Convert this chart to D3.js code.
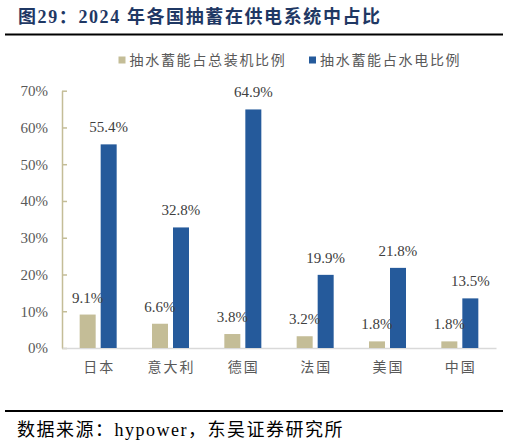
<!DOCTYPE html>
<html>
<head>
<meta charset="utf-8">
<script src="https://cdn.jsdelivr.net/npm/d3@7"></script>
<style>
  body { margin: 0; background: #fff; }
  svg { display: block; }
</style>
</head>
<body>
<div id="chart"></div>
<script>
// 数据
const countries = ["日本", "意大利", "德国", "法国", "美国", "中国"];
const seriesNames = ["抽水蓄能占总装机比例", "抽水蓄能占水电比例"];
const shareOfCapacity = [0.091, 0.066, 0.038, 0.032, 0.018, 0.018];
const shareOfHydro = [0.554, 0.328, 0.649, 0.199, 0.218, 0.135];
const yTicks = [0, 0.1, 0.2, 0.3, 0.4, 0.5, 0.6, 0.7];

const width = 509;
const height = 447;
const margin = {top: 90.7, bottom: 99, left: 62, right: 13};
const colors = ["#C4BD97", "#255A9B"];

const serif = "'Liberation Serif', 'Times New Roman', 'Noto Sans CJK SC', serif";

const rows = countries.map((c, i) => ({country: c, values: [shareOfCapacity[i], shareOfHydro[i]]}));

const svg = d3.select("#chart")
    .append("svg")
    .attr("width", width)
    .attr("height", height);

// 标题
svg.append("text")
    .attr("x", 18)
    .attr("y", 23)
    .attr("fill", "#1F3864")
    .attr("font-family", serif)
    .attr("font-weight", "bold")
    .attr("font-size", 18)
    .attr("letter-spacing", 1.6)
    .text("图29：2024 年各国抽蓄在供电系统中占比");

svg.append("line")
    .attr("x1", 5).attr("x2", 503)
    .attr("y1", 34.5).attr("y2", 34.5)
    .attr("stroke", "#000").attr("stroke-width", 2);

// 比例尺
const x0 = d3.scaleBand()
    .domain(countries)
    .range([margin.left, width - margin.right]);

const x1 = d3.scaleBand()
    .domain(d3.range(seriesNames.length))
    .range([x0.bandwidth() / 2 - 18.5, x0.bandwidth() / 2 + 18.5])
    .paddingInner(5 / 21);

const y = d3.scaleLinear()
    .domain([0, 0.7])
    .range([height - margin.bottom, margin.top]);

// y 轴
const yAxis = svg.append("g")
    .attr("transform", `translate(${margin.left},0)`)
    .call(d3.axisLeft(y).tickValues(yTicks).tickFormat(d3.format(".0%"))
        .tickSizeInner(-5).tickSizeOuter(0).tickPadding(14));
yAxis.select(".domain").attr("stroke", "#C4BD97").attr("stroke-width", 1.5);
yAxis.selectAll(".tick line").attr("stroke", "#C4BD97").attr("stroke-width", 1.5);
yAxis.selectAll(".tick text")
    .attr("fill", "#595959")
    .attr("font-family", serif)
    .attr("font-size", 15);

// x 轴
const xAxis = svg.append("g")
    .attr("transform", `translate(0,${y(0)})`)
    .call(d3.axisBottom(x0).tickSize(0).tickPadding(14));
xAxis.select(".domain").attr("stroke", "#D9D9D9").attr("stroke-width", 1.5);
xAxis.selectAll(".tick text")
    .attr("fill", "#595959")
    .attr("font-family", "'Noto Sans CJK SC', sans-serif")
    .attr("font-size", 14)
    .attr("letter-spacing", 2)
    .attr("dx", 1);

// 柱子
const groups = svg.append("g")
    .selectAll("g")
    .data(rows)
    .join("g")
    .attr("transform", d => `translate(${x0(d.country)},0)`);

groups.selectAll("rect")
    .data(d => d.values.map((v, i) => ({i, v})))
    .join("rect")
    .attr("x", d => x1(d.i))
    .attr("y", d => y(d.v))
    .attr("width", x1.bandwidth())
    .attr("height", d => y(0) - y(d.v))
    .attr("fill", d => colors[d.i]);

groups.selectAll("text.val")
    .data(d => d.values.map((v, i) => ({i, v})))
    .join("text")
    .attr("class", "val")
    .attr("x", d => x1(d.i) + x1.bandwidth() / 2)
    .attr("y", d => y(d.v) - 12)
    .attr("text-anchor", "middle")
    .attr("fill", "#404040")
    .attr("font-family", serif)
    .attr("font-size", 15)
    .text(d => d3.format(".1%")(d.v));

// 图例
const legendX = [118.5, 309];
const legend = svg.append("g")
    .selectAll("g")
    .data(seriesNames)
    .join("g")
    .attr("transform", (d, i) => `translate(${legendX[i]},60)`);

legend.append("rect")
    .attr("x", 0).attr("y", -3.5)
    .attr("width", 7).attr("height", 7)
    .attr("fill", (d, i) => colors[i]);

legend.append("text")
    .attr("x", 11)
    .attr("y", 0)
    .attr("dy", "0.35em")
    .attr("fill", "#595959")
    .attr("font-family", "'Noto Sans CJK SC', sans-serif")
    .attr("font-size", 14)
    .attr("letter-spacing", 1.7)
    .text(d => d);

// 数据来源
svg.append("line")
    .attr("x1", 5).attr("x2", 503)
    .attr("y1", 411).attr("y2", 411)
    .attr("stroke", "#000").attr("stroke-width", 2);

svg.append("text")
    .attr("x", 17)
    .attr("y", 436)
    .attr("fill", "#000")
    .attr("font-family", serif)
    .attr("font-size", 18)
    .attr("letter-spacing", 1.5)
    .text("数据来源：hypower，东吴证券研究所");
</script>
</body>
</html>
